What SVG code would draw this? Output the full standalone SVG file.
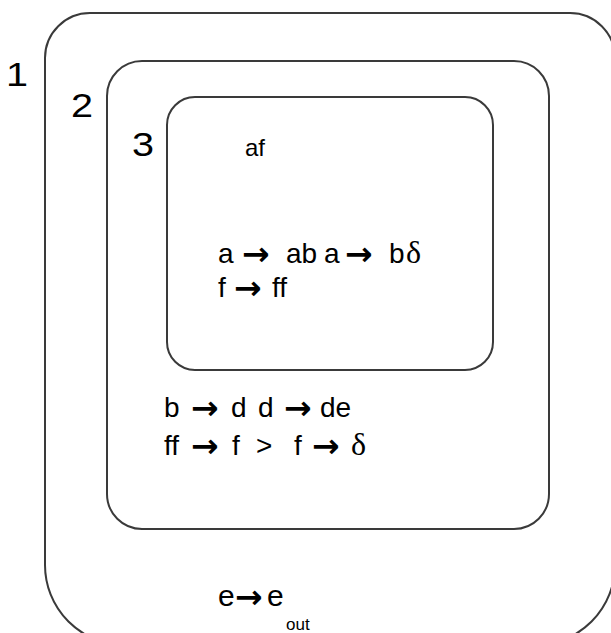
<svg xmlns="http://www.w3.org/2000/svg" width="611" height="633" viewBox="0 0 611 633">
<style>
.box{fill:none;stroke:#3a3a3a;stroke-width:2}
.t{font-family:"Liberation Sans",Arial,sans-serif;fill:#000}
.n{font-size:33px}
.r{font-size:28px}
.ar{font-family:"DejaVu Sans",sans-serif;font-weight:bold;font-size:33px}
.sy{font-family:"Liberation Serif",serif;font-size:32px}
</style>
<rect width="611" height="633" fill="#fff"/>
<g id="membrane1">
<path class="box" d="M90 13 H570 A45 45 0 0 1 615 58 V565 A80 80 0 0 1 535 645 H125 A80 80 0 0 1 45 565 V58 A45 45 0 0 1 90 13 Z"/>
<text class="t n" transform="translate(6,86) scale(1.2,1)">1</text>
<text class="t" font-size="30" y="606"><tspan x="218">e</tspan><tspan x="235" dy="2" class="ar">→</tspan><tspan x="267" dy="-2">e</tspan></text>
<text class="t" x="286" y="630" font-size="17">out</text>
</g>
<g id="membrane2">
<rect class="box" x="107" y="61" width="442" height="468" rx="35" ry="35"/>
<text class="t n" transform="translate(71,117) scale(1.2,1)">2</text>
<text class="t r" y="417"><tspan x="164">b</tspan> <tspan x="191" dy="2" class="ar">→</tspan> <tspan x="231" dy="-2">d</tspan> <tspan x="258">d</tspan> <tspan x="284" dy="2" class="ar">→</tspan> <tspan x="320" dy="-2">de</tspan></text>
<text class="t r" y="455"><tspan x="164">ff</tspan> <tspan x="191" dy="2" class="ar">→</tspan> <tspan x="232" dy="-2">f</tspan> <tspan x="256">&gt;</tspan> <tspan x="294">f</tspan> <tspan x="312" dy="2" class="ar">→</tspan> <tspan x="351" dy="-2" class="sy">δ</tspan></text>
</g>
<g id="membrane3">
<rect class="box" x="167" y="97" width="326" height="273" rx="28" ry="28"/>
<text class="t n" transform="translate(132,156) scale(1.2,1)">3</text>
<text class="t" x="245" y="156" font-size="24">af</text>
<text class="t r" y="263"><tspan x="218">a</tspan> <tspan x="242" dy="2" class="ar">→</tspan> <tspan x="286" dy="-2">ab</tspan> <tspan x="324">a</tspan> <tspan x="345" dy="2" class="ar">→</tspan> <tspan x="389" dy="-2">b</tspan><tspan x="406" class="sy">δ</tspan></text>
<text class="t r" y="297"><tspan x="218">f</tspan> <tspan x="234" dy="2" class="ar">→</tspan> <tspan x="272" dy="-2">ff</tspan></text>
</g>
</svg>
